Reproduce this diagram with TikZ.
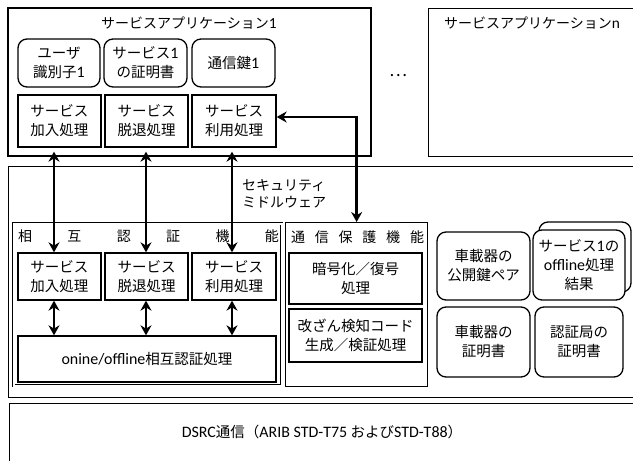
\documentclass[tikz,border=0pt]{standalone}
\usepackage{fontspec}
\setmainfont{Noto Sans CJK JP}
\newfontfamily\latfont[Scale=1.1]{Carlito}
\newcommand\la[1]{{\latfont #1}}
\usetikzlibrary{arrows.meta}
\newcommand\myfs{\fontsize{14.5}{19}\selectfont}
\newcommand\titfs{\fontsize{14}{17}\selectfont}
\begin{document}
\begin{tikzpicture}[x=1pt,y=-1pt,
  frame/.style={draw, line width=1.3pt, inner sep=0pt},
  box/.style={draw, line width=1.3pt, align=center, inner sep=0pt, font=\myfs},
  rbox/.style={box, rounded corners=9pt},
  arr/.style={line width=2.5pt, {Stealth[length=10pt,width=11pt]}-{Stealth[length=10pt,width=11pt]}},
  txt/.style={inner sep=0pt, font=\titfs},
]
\useasboundingbox (0,0) rectangle (633,461);
\clip (0,0) rectangle (633,461);
\fill[white] (0,0) rectangle (633,461);

% application 1
\node[frame, minimum width=363, minimum height=148] (app1) at (189.5,82) {};
\node[txt] (app1t) at (189,23) {サービスアプリケーション\la{1}};
\node[rbox, minimum width=82, minimum height=48] (uid) at (59,63) {ユーザ\\識別子\la{1}};
\node[rbox, minimum width=83, minimum height=48] (cert1) at (145.5,63) {サービス\la{1}\\の証明書};
\node[rbox, minimum width=83, minimum height=48] (key1) at (233.5,63) {通信鍵\la{1}};
\node[box, minimum width=83, minimum height=52] (ajoin) at (59.5,121) {サービス\\加入処理};
\node[box, minimum width=83, minimum height=52] (aleave) at (146.5,121) {サービス\\脱退処理};
\node[box, minimum width=84, minimum height=52] (ause) at (234,121) {サービス\\利用処理};

% dots and application n
\node[inner sep=0pt, font=\fontsize{17}{17}\selectfont] (dots) at (398,76) {…};
\node[frame, anchor=north west, minimum width=212, minimum height=148] (appn) at (428,8) {};
\node[txt, anchor=west] (appnt) at (444,23) {サービスアプリケーション\la{n}};

% middleware
\node[frame, anchor=north west, minimum width=640, minimum height=231] (mw) at (8,166) {};
\node[txt, anchor=west, align=left] (mwt) at (242,193.5) {セキュリティ\\ミドルウェア};

% mutual authentication
\node[draw, double, double distance=1.5pt, line width=0.8pt, anchor=north west,
      minimum width=268, minimum height=162, inner sep=0pt] (mauth) at (13.5,223.5) {};
\node[txt] (mautht) at (148.5,236) {\makebox[261pt]{相\hfill 互\hfill 認\hfill 証\hfill 機\hfill 能}};
\node[box, minimum width=83, minimum height=47] (mjoin) at (59.5,276.5) {サービス\\加入処理};
\node[box, minimum width=83, minimum height=47] (mleave) at (146.5,276.5) {サービス\\脱退処理};
\node[box, minimum width=84, minimum height=47] (muse) at (234,276.5) {サービス\\利用処理};
\node[box, minimum width=258, minimum height=46] (auth) at (147,359) {\la{onine/offline}相互認証処理};

% communication protection
\node[frame, anchor=north west, minimum width=142, minimum height=164] (comm) at (285,222) {};
\node[txt] (commt) at (357.5,237) {\makebox[133pt]{通\hfill 信\hfill 保\hfill 護\hfill 機\hfill 能}};
\node[box, minimum width=133, minimum height=51] (enc) at (355.5,278.5) {暗号化／復号\\処理};
\node[box, minimum width=133, minimum height=53] (mac) at (355.5,335.5) {改ざん検知コード\\生成／検証処理};

% stored data
\node[rbox, minimum width=93, minimum height=68] (pk) at (483.5,266) {車載器の\\公開鍵ペア};
\node[rbox, fill=white, minimum width=92, minimum height=70] (offb) at (585,257) {};
\node[rbox, fill=white, minimum width=92, minimum height=70] (off) at (579,265) {サービス\la{1}の\\\la{offline}処理\\結果};
\node[rbox, minimum width=93, minimum height=70] (vcert) at (483.5,342) {車載器の\\証明書};
\node[rbox, minimum width=88, minimum height=70] (cacert) at (579,342) {認証局の\\証明書};

% DSRC
\node[frame, anchor=north west, minimum width=640, minimum height=80] (dsrc) at (9,403) {};
\node[txt, font=\fontsize{14.5}{16}\selectfont] (dsrct) at (322,432) {\la{DSRC}通信（\la{ARIB STD-T75} および\la{STD-T88}）};

% connectors
\draw[arr, shorten <=4pt] ([xshift=-5.5pt]ajoin.south) -- ([xshift=-5.5pt]mjoin.north);
\draw[arr, shorten <=4pt] ([xshift=-0.5pt]aleave.south) -- ([xshift=-0.5pt]mleave.north);
\draw[arr, shorten <=4pt] ([xshift=-2pt]ause.south) -- ([xshift=-2pt]muse.north);
\draw[arr] ([xshift=-5.5pt]mjoin.south) -- ([xshift=-5.5pt]mjoin.south |- auth.north);
\draw[arr] ([xshift=-0.5pt]mleave.south) -- ([xshift=-0.5pt]mleave.south |- auth.north);
\draw[arr] ([xshift=-2pt]muse.south) -- ([xshift=-2pt]muse.south |- auth.north);
\draw[arr] ([yshift=4pt]ause.east) -| (comm.north);
\end{tikzpicture}
\end{document}
